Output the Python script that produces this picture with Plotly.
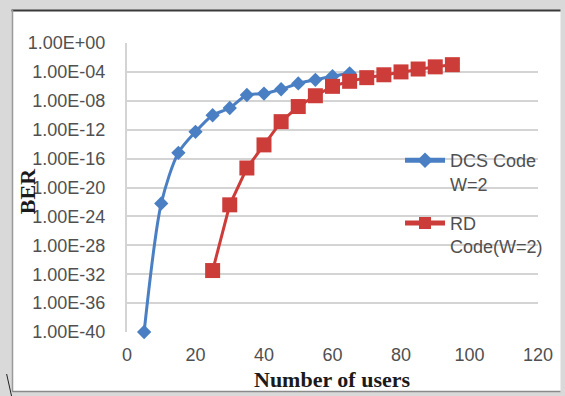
import plotly.graph_objects as go

# Number of users vs. bit error rate for the two code families
users_dcs = [5, 10, 15, 20, 25, 30, 35, 40, 45, 50, 55, 60, 65]
ber_dcs = [1.0e-40, 6.3e-23, 6.3e-16, 5.0e-13, 1.0e-10, 1.0e-09, 6.3e-08,
           1.0e-07, 4.0e-07, 2.5e-06, 7.9e-06, 2.5e-05, 6.3e-05]

users_rd = [25, 30, 35, 40, 45, 50, 55, 60, 65, 70, 75, 80, 85, 90, 95]
ber_rd = [3.2e-32, 4.0e-23, 5.0e-18, 7.9e-15, 1.3e-11, 1.6e-09, 5.0e-08,
          1.0e-06, 5.0e-06, 1.6e-05, 4.0e-05, 1.0e-04, 2.5e-04, 5.0e-04, 1.0e-03]

y_tick_vals = [1e0, 1e-4, 1e-8, 1e-12, 1e-16, 1e-20, 1e-24, 1e-28, 1e-32, 1e-36, 1e-40]
y_tick_text = ["1.00E+00", "1.00E-04", "1.00E-08", "1.00E-12", "1.00E-16", "1.00E-20",
               "1.00E-24", "1.00E-28", "1.00E-32", "1.00E-36", "1.00E-40"]
x_tick_vals = [0, 20, 40, 60, 80, 100, 120]

BLUE = "#4a7fc3"
RED = "#cc3d3a"
GRID = "#d4d4d4"
TICK_FONT = dict(family="Liberation Sans, Arial, sans-serif", size=18, color="#505050")
TITLE_FONT = dict(family="Liberation Serif, Times New Roman, serif", size=22, color="#1a1a1a")

W, H = 565, 396
L, R, T, B = 127, 18, 43, 64
PW, PH = W - L - R, H - T - B


def px_x(p):
    return (p - L) / PW


def px_y(p):
    return (H - B - p) / PH


fig = go.Figure()

fig.add_trace(go.Scatter(
    x=users_dcs, y=ber_dcs, name="DCS Code<br>W=2",
    mode="lines+markers", line=dict(color=BLUE, width=3, shape="spline", smoothing=0.8),
    marker=dict(symbol="diamond", size=11, color=BLUE),
    cliponaxis=False, legendgroup="a",
))
fig.add_trace(go.Scatter(
    x=users_rd, y=ber_rd, name="RD<br>Code(W=2)",
    mode="lines+markers", line=dict(color=RED, width=3),
    marker=dict(symbol="square", size=15, color=RED),
    cliponaxis=False, legendgroup="b",
))

# White chart frame on the grey page
shapes = [
    dict(type="rect", xref="paper", yref="paper", layer="below",
         x0=px_x(10), x1=px_x(570), y0=px_y(392), y1=px_y(10),
         fillcolor="white", line=dict(width=0)),
    dict(type="line", xref="paper", yref="paper", layer="below",
         x0=px_x(9), x1=px_x(570), y0=px_y(10.5), y1=px_y(10.5),
         line=dict(color="#3a3a3a", width=2)),
    dict(type="line", xref="paper", yref="paper", layer="below",
         x0=px_x(10), x1=px_x(10), y0=px_y(10), y1=px_y(392),
         line=dict(color="#9a9a9a", width=1.5)),
    dict(type="line", xref="paper", yref="paper", layer="below",
         x0=px_x(10), x1=px_x(570), y0=px_y(391.5), y1=px_y(391.5),
         line=dict(color="#8a8a8a", width=1.5)),
    dict(type="line", xref="paper", yref="paper", layer="below",
         x0=px_x(4), x1=px_x(9), y0=px_y(374), y1=px_y(396),
         line=dict(color="#222222", width=1)),
]

fig.update_layout(
    width=W, height=H,
    margin=dict(l=L, r=R, t=T, b=B, pad=0),
    paper_bgcolor="#d9d9d9",
    plot_bgcolor="white",
    shapes=shapes,
    showlegend=True,
    legend=dict(
        x=px_x(406), y=px_y(142), xanchor="left", yanchor="top",
        bgcolor="rgba(0,0,0,0)", borderwidth=0,
        font=dict(family="Liberation Sans, Arial, sans-serif", size=18, color="#505050"),
        valign="top", traceorder="grouped", tracegroupgap=13,
        itemwidth=40, itemsizing="constant",
    ),
    annotations=[
        dict(text="<b>Number of users</b>", xref="paper", yref="paper",
             x=px_x(336), y=px_y(379), xanchor="center", yanchor="middle",
             showarrow=False, font=TITLE_FONT),
        dict(text="<b>BER</b>", xref="paper", yref="paper",
             x=px_x(25), y=px_y(191), xanchor="center", yanchor="middle",
             textangle=-90, showarrow=False, font=TITLE_FONT),
    ],
)

fig.update_xaxes(
    range=[0, 120], tickvals=x_tick_vals, showgrid=False, zeroline=False,
    showline=False, ticks="", tickfont=TICK_FONT, ticklabelstandoff=10,
)
fig.update_yaxes(
    type="log", range=[-40, 0], tickmode="array",
    tickvals=y_tick_vals, ticktext=y_tick_text,
    showgrid=True, gridcolor=GRID, gridwidth=2,
    showline=True, linecolor=GRID, linewidth=2,
    zeroline=False, ticks="", tickfont=TICK_FONT, ticklabelstandoff=16,
)

fig.write_html("out.html")
